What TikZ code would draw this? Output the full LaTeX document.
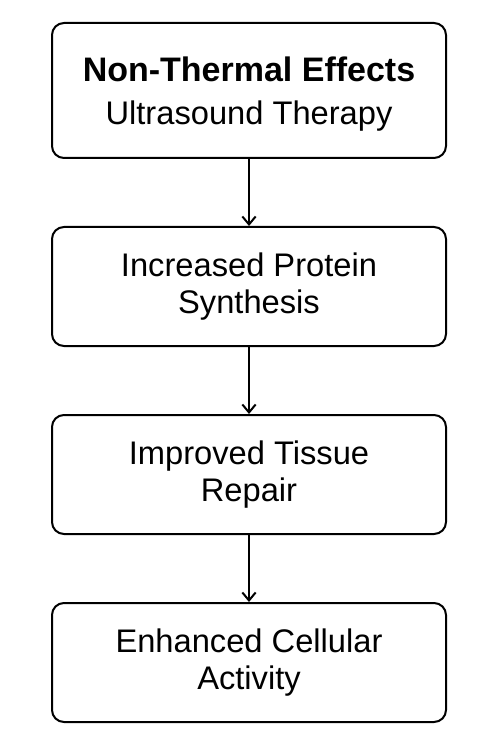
\documentclass[tikz,border=0pt]{standalone}
\usepackage{fontspec}
\setmainfont{Liberation Sans}
\usetikzlibrary{arrows.meta, positioning}

\begin{document}
\begin{tikzpicture}[x=0.75pt, y=-0.75pt,
  stagebox/.style={draw, line width=1.5pt, rounded corners=9pt, align=center,
    minimum width=295.5pt, minimum height=89.25pt, inner sep=0pt,
    font=\fontsize{24.5}{27.75}\selectfont},
  flowarrow/.style={-{Straight Barb[length=6pt, width=10pt]}, line width=1.5pt},
  node distance=50.25pt]
  \useasboundingbox (0,0) rectangle (498,748);

  \node[stagebox, minimum height=101.25pt] (effects) at (249,90.5)
    {{\fontsize{25.5}{28}\selectfont\bfseries\rule{0pt}{24pt}Non-Thermal Effects}\\[5pt]Ultrasound Therapy};
  \node[stagebox, below=of effects] (protein) {Increased Protein\\Synthesis};
  \node[stagebox, below=of protein] (repair) {Improved Tissue\\Repair};
  \node[stagebox, below=of repair] (activity) {Enhanced Cellular\\Activity};

  \draw[flowarrow] (effects) -- (protein);
  \draw[flowarrow] (protein) -- (repair);
  \draw[flowarrow] (repair) -- (activity);
\end{tikzpicture}
\end{document}
